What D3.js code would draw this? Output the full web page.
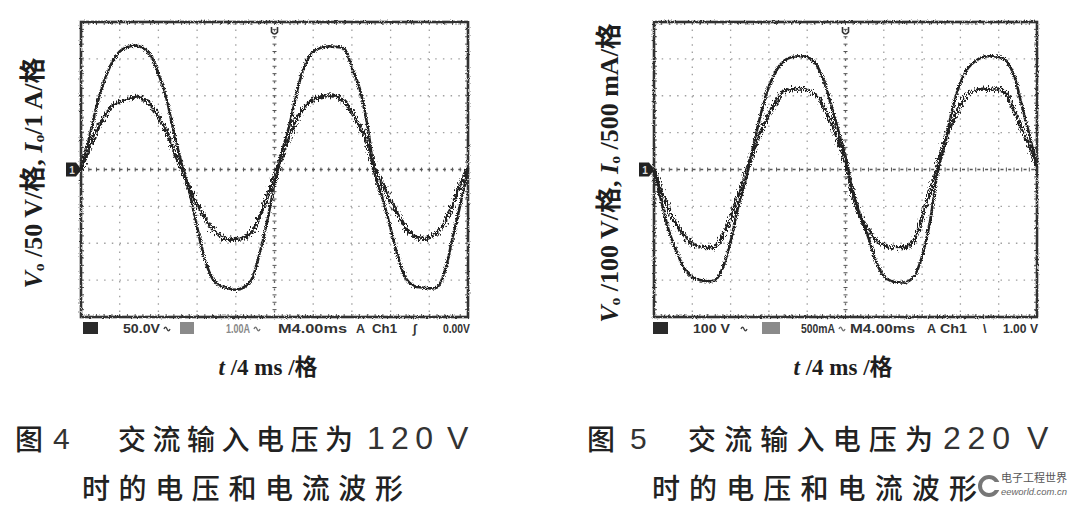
<!DOCTYPE html>
<html><head><meta charset="utf-8">
<script src="https://cdn.jsdelivr.net/npm/d3@7"></script>
<style>
html,body{margin:0;padding:0;background:#fff;}
svg{display:block;}
</style></head><body>
<svg id="c" width="1073" height="511"></svg>
<script>
// ---------- data ----------
// time axis, ms (4 ms per division, 10 divisions)
const timeMs = [0,0.8,1.6,2.4,3.2,4,4.8,5.6,6.4,7.2,8,8.8,9.6,10.4,11.2,12,12.8,13.6,14.4,15.2,16,16.8,17.6,18.4,19.2,20,
  20.8,21.6,22.4,23.2,24,24.8,25.6,26.4,27.2,28,28.8,29.6,30.4,31.2,32,32.8,33.6,34.4,35.2,36,36.8,37.6,38.4,39.2,40];

// Fig.4 : 120 V input  (V, A)
const fig4Voltage = [0,40,85,120,145,160,166,168,165,155,130,98,50,8,-30,-78,-122,-148,-158,-161,-163,-160,-150,-117,-73,-20,
  25,63,110,143,160,165,167,166,164,138,110,60,-8,-40,-80,-120,-148,-158,-160,-161,-160,-138,-93,-48,0];
const fig4Current = [0,0.55,1.05,1.42,1.72,1.85,1.9,1.96,1.92,1.75,1.42,1.05,0.5,0,-0.5,-0.95,-1.32,-1.62,-1.8,-1.88,-1.9,-1.85,-1.72,-1.3,-0.78,-0.2,
  0.35,0.95,1.4,1.72,1.9,1.97,2.0,1.98,1.85,1.55,1.17,0.7,0,-0.42,-0.85,-1.25,-1.6,-1.8,-1.86,-1.85,-1.72,-1.45,-0.95,-0.42,0.05];

// Fig.5 : 220 V input  (V, mA)
const fig5Voltage = [0,-90,-170,-225,-270,-292,-300,-303,-300,-265,-195,-100,-25,65,155,225,270,295,305,307,305,290,250,185,110,35,
  -63,-130,-185,-250,-290,-303,-306,-305,-288,-235,-145,-10,70,168,235,275,295,306,307,305,295,255,175,95,5];
const fig5Current = [0,-310,-560,-750,-900,-1010,-1050,-1060,-1050,-890,-660,-350,-60,270,525,750,925,1060,1085,1090,1075,1025,875,675,425,100,
  -375,-650,-825,-960,-1025,-1050,-1060,-1050,-950,-650,-315,50,400,650,860,1025,1075,1090,1085,1090,1025,800,550,325,50];

// text
const yLabels = [
  {v:"V", s:"o", rest:" /50 V/格, ", i:"I", s2:"o", rest2:"/1 A/格"},
  {v:"V", s:"o", rest:" /100 V/格, ", i:"I", s2:"o", rest2:" /500 mA/格"}
];
const xLabel = "/4 ms /格";
const captionNo = ["图","图"];
const captionNum = ["4","5"];
const captionMid = "交流输入电压为";
const captionVolt = ["120","220"];
const captionLine2 = "时的电压和电流波形";
const statusLeft  = ["50.0V","1.00A","M4.00ms","A","Ch1","0.00V"];
const statusRight = ["100 V","500mA","M4.00ms","A","Ch1","1.00 V"];

// ---------- drawing ----------
const svg = d3.select("#c");
const defs = svg.append("defs");
function rough(id, freq, scale, seed){
  const f = defs.append("filter").attr("id", id)
    .attr("x","-5%").attr("y","-5%").attr("width","110%").attr("height","110%");
  f.append("feTurbulence").attr("type","fractalNoise").attr("baseFrequency",freq)
    .attr("numOctaves",2).attr("seed",seed).attr("result","n");
  f.append("feDisplacementMap").attr("in","SourceGraphic").attr("in2","n")
    .attr("scale",scale).attr("xChannelSelector","R").attr("yChannelSelector","G");
}
rough("rV","0.9",4.5,2);
rough("rI","1.3 0.35",10,5);
rough("rF","0.7",3,9);

const panels = [
  {x0:81, x1:468, y0:22, y1:317, vMax:200, iMax:4, volt:fig4Voltage, curr:fig4Current, status:statusLeft, lab:yLabels[0],
   labX:33, labY:173, labSize:26, xLabX:268, idx:0},
  {x0:654, x1:1037, y0:22, y1:317, vMax:400, iMax:2000, volt:fig5Voltage, curr:fig5Current, status:statusRight, lab:yLabels[1],
   labX:609, labY:173, labSize:26, xLabX:843, idx:1}
];

const gridCol = "#a0a0a0";
function acSymbol(sel, x0, y0, col){
  sel.append("path").attr("d",`M${x0},${y0} q1.5,-3.5 3,0 t3,0`).attr("fill","none")
    .attr("stroke",col).attr("stroke-width",1.4);
}
panels.forEach(p=>{
  const g = svg.append("g");
  const x = d3.scaleLinear().domain([0,40]).range([p.x0,p.x1]);
  const yV = d3.scaleLinear().domain([-p.vMax,p.vMax]).range([p.y1,p.y0]);
  const yI = d3.scaleLinear().domain([-p.iMax,p.iMax]).range([p.y1,p.y0]);
  const yDiv = d3.scaleLinear().domain([-4,4]).range([p.y1,p.y0]);
  const xDiv = d3.scaleLinear().domain([0,10]).range([p.x0,p.x1]);

  // grid dotted lines
  const gg = g.append("g");
  d3.range(1,10).forEach(i=>{
    if(i===5) return;
    gg.append("line").attr("x1",xDiv(i)).attr("x2",xDiv(i)).attr("y1",p.y0).attr("y2",p.y1)
      .attr("stroke",gridCol).attr("stroke-width",1.3).attr("stroke-dasharray","1.5,5.9");
  });
  d3.range(-3,4).forEach(j=>{
    if(j===0) return;
    gg.append("line").attr("x1",p.x0).attr("x2",p.x1).attr("y1",yDiv(j)).attr("y2",yDiv(j))
      .attr("stroke",gridCol).attr("stroke-width",1.3).attr("stroke-dasharray","1.5,6.2");
  });
  // center cross
  gg.append("line").attr("x1",p.x0).attr("x2",p.x1).attr("y1",yDiv(0)).attr("y2",yDiv(0))
    .attr("stroke","#555").attr("stroke-width",1.4).attr("stroke-dasharray","3,4.7");
  gg.append("line").attr("x1",xDiv(5)).attr("x2",xDiv(5)).attr("y1",p.y0).attr("y2",p.y1)
    .attr("stroke","#666").attr("stroke-width",1.3).attr("stroke-dasharray","2,5.4");
  // minor ticks on center cross & border
  const tickG = g.append("g").attr("stroke","#555").attr("stroke-width",1);
  d3.range(0,50.01,1).forEach(k=>{
    const xx = xDiv(k/5);
    tickG.append("line").attr("x1",xx).attr("x2",xx).attr("y1",yDiv(0)-2).attr("y2",yDiv(0)+2);
    tickG.append("line").attr("x1",xx).attr("x2",xx).attr("y1",p.y0).attr("y2",p.y0+3);
    tickG.append("line").attr("x1",xx).attr("x2",xx).attr("y1",p.y1-3).attr("y2",p.y1);
  });
  d3.range(-20,20.01,1).forEach(k=>{
    const yy = yDiv(k/5);
    tickG.append("line").attr("x1",xDiv(5)-2).attr("x2",xDiv(5)+2).attr("y1",yy).attr("y2",yy);
    tickG.append("line").attr("x1",p.x0).attr("x2",p.x0+3).attr("y1",yy).attr("y2",yy);
    tickG.append("line").attr("x1",p.x1-3).attr("x2",p.x1).attr("y1",yy).attr("y2",yy);
  });

  // frame
  g.append("rect").attr("x",p.x0).attr("y",p.y0).attr("width",p.x1-p.x0).attr("height",p.y1-p.y0)
    .attr("fill","none").attr("stroke","#333").attr("stroke-width",2.6).attr("filter","url(#rF)");

  // traces
  const lineV = d3.line().x((d,i)=>x(timeMs[i])).y(d=>yV(d)).curve(d3.curveCatmullRom.alpha(0.5));
  const lineI = d3.line().x((d,i)=>x(timeMs[i])).y(d=>yI(d)).curve(d3.curveCatmullRom.alpha(0.5));
  g.append("path").attr("d",lineI(p.curr)).attr("fill","none").attr("stroke","#222")
    .attr("stroke-width",3.2).attr("filter","url(#rI)");
  g.append("path").attr("d",lineV(p.volt)).attr("fill","none").attr("stroke","#222")
    .attr("stroke-width",2.6).attr("filter","url(#rV)");

  // ground marker
  const gy = yDiv(0);
  g.append("path").attr("d",`M${p.x0-15},${gy-7} h10 l4,5 v4 l-4,5 h-10 z`).attr("fill","#222");
  g.append("text").attr("x",p.x0-9).attr("y",gy+4).attr("fill","#ddd").attr("font-size",10)
    .attr("font-family","Liberation Sans").attr("font-weight","bold").attr("text-anchor","middle").text("1");
  // trigger marker
  const tx = xDiv(5);
  g.append("path").attr("d",`M${tx-3},${p.y0+5} v5 q3,4 6,0 v-5`).attr("fill","none")
    .attr("stroke","#333").attr("stroke-width",1.6);

  // status bar
  const sb = g.append("g").attr("font-family","Liberation Sans").attr("font-weight","bold")
    .attr("font-size",12.5).attr("fill","#333");
  const sy = 333;
  const L = p.idx===0
    ? {box1:[83,15], s0:[123,37], w0:[164], box2:[180,14], s1:[226,24], w1:[254], s2:[278,69], s3:[356], s4:[372,25], trig:"∫", tr:[413], s5:[443,27]}
    : {box1:[653,15], s0:[693,37], w0:[741], box2:[762,18], s1:[801,34], w1:[839], s2:[850,65], s3:[927], s4:[940,27], trig:"\\", tr:[983], s5:[1003,35]};
  sb.append("rect").attr("x",L.box1[0]).attr("y",sy-11).attr("width",L.box1[1]).attr("height",12).attr("fill","#2a2a2a");
  sb.append("rect").attr("x",L.box2[0]).attr("y",sy-11).attr("width",L.box2[1]).attr("height",12).attr("fill","#8a8a8a");
  sb.append("text").attr("x",L.s0[0]).attr("y",sy).attr("textLength",L.s0[1]).attr("lengthAdjust","spacingAndGlyphs").text(p.status[0]);
  acSymbol(sb, L.w0[0], sy-4, "#444");
  sb.append("text").attr("x",L.s1[0]).attr("y",sy).attr("textLength",L.s1[1]).attr("lengthAdjust","spacingAndGlyphs")
    .attr("fill", p.idx===0 ? "#888" : "#333").text(p.status[1]);
  acSymbol(sb, L.w1[0], sy-4, "#777");
  sb.append("text").attr("x",L.s2[0]).attr("y",sy).attr("textLength",L.s2[1]).attr("lengthAdjust","spacingAndGlyphs").text(p.status[2]);
  sb.append("text").attr("x",L.s3[0]).attr("y",sy).text(p.status[3]);
  sb.append("text").attr("x",L.s4[0]).attr("y",sy).attr("textLength",L.s4[1]).attr("lengthAdjust","spacingAndGlyphs").text(p.status[4]);
  sb.append("text").attr("x",L.tr[0]).attr("y",sy).text(L.trig);
  sb.append("text").attr("x",L.s5[0]).attr("y",sy).attr("textLength",L.s5[1]).attr("lengthAdjust","spacingAndGlyphs").text(p.status[5]);

  // y label (rotated)
  const yl = svg.append("text").attr("transform",`translate(${p.labX},${p.labY}) rotate(-90)`)
    .attr("text-anchor","middle").attr("font-family","Liberation Serif, 'Noto Sans CJK SC'")
    .attr("font-size",p.labSize).attr("font-weight","bold").attr("fill","#1e1e1e").attr("dominant-baseline","central");
  yl.append("tspan").attr("font-style","italic").text(p.lab.v);
  yl.append("tspan").attr("font-size",p.labSize*0.6).attr("dy",5).text(p.lab.s);
  yl.append("tspan").attr("dy",-5).text(p.lab.rest);
  yl.append("tspan").attr("font-style","italic").text(p.lab.i);
  yl.append("tspan").attr("font-size",p.labSize*0.6).attr("dy",5).text(p.lab.s2);
  yl.append("tspan").attr("dy",-5).text(p.lab.rest2);

  // x label
  const xl = svg.append("text").attr("x",p.xLabX).attr("y",367).attr("text-anchor","middle")
    .attr("dominant-baseline","central").attr("font-family","Liberation Serif, 'Noto Sans CJK SC'")
    .attr("font-size",23).attr("font-weight","bold").attr("fill","#1e1e1e");
  xl.append("tspan").attr("font-style","italic").text("t ");
  xl.append("tspan").text(xLabel);
});

// captions
const capFont = "'Noto Sans CJK SC'";
const caps = [
  {no:[15], num:[53], mid:[118,235], volt:[367,66], v:[447], l2:[82,321]},
  {no:[587], num:[630], mid:[688,245], volt:[943,67], v:[1027], l2:[652,325]}
];
caps.forEach((c,k)=>{
  const cg = svg.append("g").attr("fill","#222").attr("dominant-baseline","central");
  cg.append("text").attr("x",c.no[0]).attr("y",438).attr("font-family",capFont).attr("font-size",28).attr("font-weight",500).text(captionNo[k]);
  cg.append("text").attr("x",c.num[0]).attr("y",438).attr("font-family","Liberation Sans").attr("font-size",30).attr("fill","#333").text(captionNum[k]);
  cg.append("text").attr("x",c.mid[0]).attr("y",438).attr("font-family",capFont).attr("font-size",28).attr("font-weight",500)
    .attr("textLength",c.mid[1]).attr("lengthAdjust","spacing").text(captionMid);
  cg.append("text").attr("x",c.volt[0]).attr("y",438).attr("font-family","Liberation Sans").attr("font-size",32).attr("fill","#333")
    .attr("textLength",c.volt[1]).attr("lengthAdjust","spacing").text(captionVolt[k]);
  cg.append("text").attr("x",c.v[0]).attr("y",438).attr("font-family","Liberation Sans").attr("font-size",32).attr("fill","#333").text("V");
  cg.append("text").attr("x",c.l2[0]).attr("y",487).attr("font-family",capFont).attr("font-size",28).attr("font-weight",500)
    .attr("textLength",c.l2[1]).attr("lengthAdjust","spacing").text(captionLine2);
});

// watermark logo
const lg = svg.append("g");
lg.append("rect").attr("x",978).attr("y",470).attr("width",95).attr("height",34).attr("fill","#fff").attr("opacity",0.85);
lg.append("circle").attr("cx",989).attr("cy",486).attr("r",9).attr("fill","none").attr("stroke","#777").attr("stroke-width",4);
lg.append("rect").attr("x",993).attr("y",482).attr("width",7).attr("height",8).attr("fill","#fff");
lg.append("text").attr("x",1001).attr("y",482).attr("font-family",capFont).attr("font-size",11).attr("fill","#555")
  .attr("textLength",66).attr("lengthAdjust","spacingAndGlyphs").text("电子工程世界");
lg.append("text").attr("x",1001).attr("y",495).attr("font-family","Liberation Sans").attr("font-style","italic")
  .attr("font-size",9.5).attr("fill","#666").attr("textLength",66).attr("lengthAdjust","spacingAndGlyphs").text("eeworld.com.cn");
</script>
</body></html>
